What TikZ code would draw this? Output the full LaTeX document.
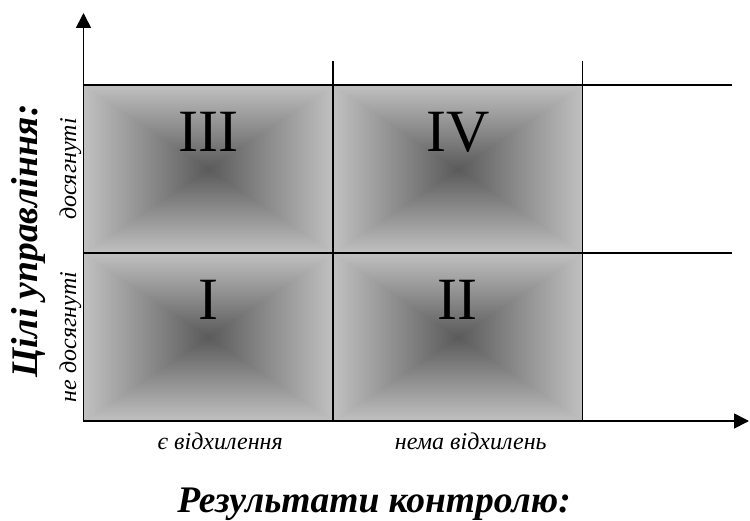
\documentclass[tikz,border=0pt]{standalone}
\usepackage{fontspec}
\setmainfont{Liberation Serif}
\usetikzlibrary{arrows.meta,positioning}
% pyramid-like grey shading: dark centre, light edges
\pgfdeclarefunctionalshading{cellpyramid}{\pgfpointorigin}{\pgfpoint{100bp}{100bp}}{}{%
  50 sub abs exch 50 sub abs 2 copy lt {exch} if pop
  25 div dup 1 gt {pop 1} if
  0.40 mul 0.355 add dup dup}

\begin{document}
\begin{tikzpicture}[
  x=1pt, y=1pt,
  >={Triangle[length=15pt,width=15pt]},
  cell/.style={rectangle, draw=black, line width=1.5pt, shade, shading=cellpyramid,
               minimum width=249.5pt, minimum height=168pt, inner sep=0pt, outer sep=0pt},
  grid/.style={draw=black, line width=1.5pt},
  axis/.style={->, draw=black, line width=1.8pt},
  numeral/.style={font=\fontsize{60}{60}\selectfont},
  lab/.style={font=\fontsize{24}{24}\selectfont\itshape},
  title/.style={font=\fontsize{37.5}{37.5}\selectfont\bfseries\itshape},
]
\useasboundingbox (0,0) rectangle (750,520);

% ---- quadrants ----
\node[cell] (c1) at (208.25,183) {};
\node[cell, right=0pt of c1] (c2) {};
\node[cell, above=0pt of c1] (c3) {};
\node[cell, right=0pt of c3] (c4) {};

\node[numeral] (n1) at ([yshift=37pt]c1.center) {I};
\node[numeral] (n2) at ([yshift=37pt]c2.center) {II};
\node[numeral] (n3) at ([yshift=37pt]c3.center) {III};
\node[numeral] (n4) at ([yshift=37pt]c4.center) {IV};

% ---- grid lines running out of the quadrants ----
\coordinate (topend) at (732,435);
\coordinate (midend) at (732,267);
\coordinate (tickA) at ([yshift=24pt]c3.north east);
\coordinate (tickB) at ([yshift=24pt]c4.north east);
\draw[grid] (c4.north east) -- (topend);
\draw[grid] (c4.south east) -- (midend);
\draw[grid] (c3.north east) -- (tickA);
\draw[grid] (c4.north east) -- (tickB);

% ---- axes ----
\coordinate (origin) at (c1.south west);
\coordinate (xtip) at (749,99);
\coordinate (ytip) at (83.5,507);
\draw[axis] (origin) -- (xtip);
\draw[axis] (origin) -- (ytip);

% ---- axis captions ----
\node[lab, rotate=90] (reached) at ([xshift=-13pt]c3.west) {досягнуті};
\node[lab, rotate=90] (notreached) at ([xshift=-13pt]c1.west) {не досягнуті};
\node[title, rotate=90] (goals) at (29,279) {Цілі управління:};
\node[lab] (dev) at ([xshift=12pt,yshift=-20pt]c1.south) {є відхилення};
\node[lab] (nodev) at ([xshift=13pt,yshift=-20pt]c2.south) {нема відхилень};
\node[title] (results) at (374,16) {Результати контролю:};
\end{tikzpicture}
\end{document}
